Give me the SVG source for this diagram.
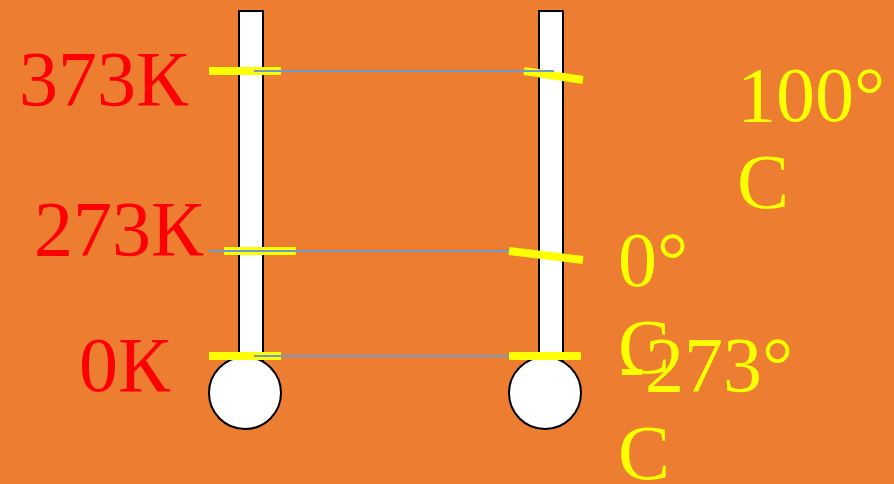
<svg xmlns="http://www.w3.org/2000/svg" width="894" height="484" viewBox="0 0 894 484">
<style>
.tube{fill:#fff;stroke:#000;stroke-width:2}
.bulb{fill:#fff;stroke:#000;stroke-width:2}
.mark{fill:#ffff00}
.markl{stroke:#ffff00;stroke-width:8;fill:none}
.conn{stroke:#6E9CC8;stroke-width:2;fill:none}
.k{font-family:"Liberation Serif","Times New Roman",serif;font-size:78px;fill:#ff0000}
.c{font-family:"Liberation Serif","Times New Roman",serif;font-size:78px;fill:#ffff00}
</style>
<rect x="0" y="0" width="894" height="484" fill="#ED7D31"/>
<g id="thermometer-kelvin">
<rect class="tube" x="239" y="11" width="24" height="352"/>
<circle class="bulb" cx="245" cy="393" r="36"/>
<rect class="mark" x="209" y="67" width="72" height="8"/>
<rect class="mark" x="224" y="247" width="72" height="8"/>
<rect class="mark" x="209" y="352" width="72" height="8"/>
</g>
<g id="thermometer-celsius">
<rect class="tube" x="539" y="11" width="24" height="352"/>
<circle class="bulb" cx="545" cy="393" r="36"/>
<line class="markl" x1="524" y1="71" x2="583" y2="80"/>
<line class="markl" x1="509" y1="251" x2="583" y2="260"/>
<rect class="mark" x="509" y="352" width="72" height="8"/>
</g>
<g id="connectors">
<line class="conn" x1="254" y1="71" x2="554" y2="71"/>
<line class="conn" x1="209" y1="251" x2="509" y2="251"/>
<line class="conn" x1="254" y1="356" x2="509" y2="356"/>
</g>
<g id="label-373K"><text class="k" x="19" y="105">373К</text></g>
<g id="label-273K"><text class="k" x="34" y="255">273К</text></g>
<g id="label-0K"><text class="k" x="79" y="391">0К</text></g>
<g id="label-100C"><text class="c" x="737" y="121">100°<tspan x="737" y="208">C</tspan></text></g>
<g id="label-0C"><text class="c" x="618" y="286">0°<tspan x="618" y="373">C</tspan></text></g>
<g id="label-minus273C"><text class="c" x="619" y="391">-273°<tspan x="618" y="479">C</tspan></text></g>
</svg>
